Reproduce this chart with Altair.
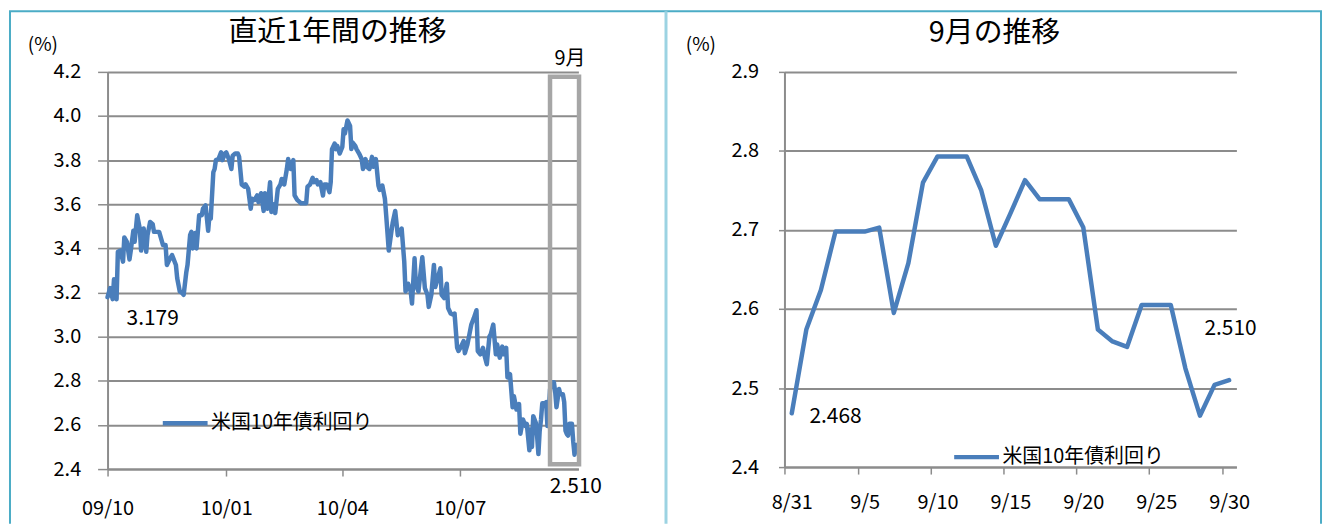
import altair as alt
import pandas as pd

FONT = "Noto Sans CJK JP"
SERIES = "米国10年債利回り"

# ---- 直近1年間 (days since 2009-10-01) ----
year_days = [0, 2, 4, 5, 7, 8, 10, 12, 13, 15, 17, 18, 20, 21, 23, 25, 26, 28, 30, 31,
             33, 35, 36, 40, 43, 45, 46, 48, 50, 51, 53, 54, 56, 58, 59, 61, 62, 64, 65, 66,
             68, 69, 71, 73, 74, 76, 78, 79, 80, 82, 83, 84, 86, 88, 89, 91, 92, 94, 96, 97,
             99, 101, 102, 104, 106, 107, 109, 111, 112, 114, 116, 117, 119, 121, 122, 124, 126, 127, 129, 130,
             132, 134, 135, 137, 139, 140, 142, 144, 145, 147, 150, 154, 155, 157, 159, 160, 162, 163, 165, 167,
             168, 170, 172, 173, 174, 176, 177, 178, 180, 182, 183, 184, 186, 188, 189, 190, 192, 193, 195, 197,
             198, 200, 201, 203, 205, 206, 208, 210, 211, 213, 215, 216, 218, 220, 221, 223, 225, 226, 228, 230,
             231, 233, 235, 236, 238, 239, 241, 243, 244, 246, 248, 249, 251, 253, 254, 256, 258, 259, 261, 263,
             264, 266, 268, 269, 271, 272, 274, 276, 277, 279, 281, 282, 284, 286, 287, 289, 291, 292, 294, 296,
             297, 299, 301, 302, 304, 306, 307, 309, 310, 312, 314, 315, 317, 319, 320, 322, 324, 325, 327, 328,
             329, 330, 332, 333, 334, 335, 336, 337, 338, 339, 340, 341, 342, 343, 344, 345, 346, 347, 348, 349,
             350, 351, 352, 353, 354, 355, 356, 357, 358, 359, 360, 361, 362, 363, 364]
year_values = [3.179, 3.22, 3.17, 3.26, 3.17, 3.385, 3.39, 3.34, 3.45, 3.43, 3.35, 3.39, 3.48, 3.43, 3.55, 3.49, 3.39, 3.49, 3.385, 3.46,
               3.52, 3.51, 3.475, 3.475, 3.415, 3.415, 3.325, 3.35, 3.37, 3.355, 3.325, 3.265, 3.205, 3.197, 3.19, 3.29, 3.325, 3.46, 3.475, 3.40,
               3.47, 3.40, 3.55, 3.55, 3.58, 3.595, 3.48, 3.55, 3.535, 3.745, 3.76, 3.80, 3.805, 3.835, 3.80, 3.83, 3.835, 3.805, 3.76, 3.82,
               3.83, 3.83, 3.815, 3.69, 3.68, 3.69, 3.67, 3.58, 3.625, 3.62, 3.64, 3.61, 3.65, 3.57, 3.65, 3.58, 3.70, 3.565, 3.60, 3.56,
               3.67, 3.69, 3.715, 3.69, 3.76, 3.805, 3.76, 3.80, 3.64, 3.62, 3.605, 3.605, 3.68, 3.69, 3.72, 3.70, 3.71, 3.69, 3.70, 3.64,
               3.69, 3.69, 3.655, 3.70, 3.85, 3.875, 3.85, 3.865, 3.83, 3.86, 3.94, 3.92, 3.98, 3.955, 3.85, 3.88, 3.865, 3.85, 3.83, 3.805,
               3.76, 3.805, 3.77, 3.76, 3.815, 3.77, 3.805, 3.685, 3.665, 3.685, 3.625, 3.55, 3.39, 3.475, 3.515, 3.57, 3.46, 3.475, 3.49, 3.34,
               3.205, 3.24, 3.205, 3.15, 3.355, 3.235, 3.205, 3.31, 3.36, 3.22, 3.19, 3.135, 3.19, 3.325, 3.225, 3.265, 3.31, 3.19, 3.175, 3.24,
               3.13, 3.105, 3.10, 3.105, 2.95, 2.935, 2.955, 2.98, 2.925, 2.965, 3.025, 3.055, 3.085, 3.12, 2.935, 2.92, 2.95, 2.92, 2.875, 3.00,
               3.01, 3.055, 2.92, 2.965, 2.905, 2.955, 2.92, 2.95, 2.815, 2.83, 2.68, 2.73, 2.67, 2.695, 2.56, 2.625, 2.595, 2.605, 2.485, 2.58,
               2.50, 2.64, 2.61, 2.55, 2.468, 2.574, 2.624, 2.698, 2.698, 2.698, 2.703, 2.595, 2.658, 2.760, 2.793, 2.793, 2.793, 2.750, 2.680, 2.721,
               2.763, 2.739, 2.739, 2.739, 2.703, 2.574, 2.559, 2.552, 2.605, 2.605, 2.605, 2.525, 2.465, 2.504, 2.510]
year_tick_days = [0, 92, 182, 273]
year_tick_labels = ["09/10", "10/01", "10/04", "10/07"]
year_y_ticks = [2.4, 2.6, 2.8, 3.0, 3.2, 3.4, 3.6, 3.8, 4.0, 4.2]

# ---- 9月 (days since 8/31) ----
sep_days = [0, 1, 2, 3, 4, 5, 6, 7, 8, 9, 10, 11, 12, 13, 14, 15, 16, 17, 18, 19,
            20, 21, 22, 23, 24, 25, 26, 27, 28, 29, 30]
sep_values = [2.468, 2.574, 2.624, 2.698, 2.698, 2.698, 2.703, 2.595, 2.658, 2.760,
              2.793, 2.793, 2.793, 2.750, 2.680, 2.721, 2.763, 2.739, 2.739, 2.739,
              2.703, 2.574, 2.559, 2.552, 2.605, 2.605, 2.605, 2.525, 2.465, 2.504, 2.510]
sep_tick_days = [0, 5, 10, 15, 20, 25, 30]
sep_tick_labels = ["8/31", "9/5", "9/10", "9/15", "9/20", "9/25", "9/30"]
sep_y_ticks = [2.4, 2.5, 2.6, 2.7, 2.8, 2.9]

LINE = "#4A7EBB"
GRID = "#8C8C8C"
TEAL = "#4BACC6"
DIVIDER = "#9CD3E2"
BOX = "#A6A6A6"

year_df = pd.DataFrame({"day": year_days, "value": year_values, "series": SERIES})
sep_df = pd.DataFrame({"day": sep_days, "value": sep_values, "series": SERIES})
one = pd.DataFrame({"k": [0]})


def label_expr(days, labels):
    expr = "''"
    for d, l in reversed(list(zip(days, labels))):
        expr = f"datum.value == {d} ? '{l}' : ({expr})"
    return expr


color_scale = alt.Scale(domain=[SERIES], range=[LINE])


def legend(x, y):
    return alt.Legend(orient="none", legendX=x, legendY=y, title=None,
                      symbolType="stroke", symbolSize=2025, symbolStrokeWidth=4.5,
                      symbolStrokeColor=LINE, labelFontSize=20, labelFont=FONT,
                      labelColor="black", labelOffset=1, labelLimit=400)


def txt(text, size, **kw):
    return alt.Chart(one).mark_text(text=text, fontSize=size, font=FONT, color="black",
                                    align="center", baseline="middle", **kw)


# ---------------- left chart ----------------
lx = alt.X("day:Q", scale=alt.Scale(domain=[0, 365], nice=False, zero=False),
           axis=alt.Axis(values=year_tick_days, labelExpr=label_expr(year_tick_days, year_tick_labels),
                         grid=False, tickSize=7, labelPadding=23, title=None, labelFlush=False))
ly = alt.Y("value:Q", scale=alt.Scale(domain=[2.4, 4.2], nice=False, zero=False),
           axis=alt.Axis(values=year_y_ticks, format=".1f", tickSize=10, labelPadding=17,
                         title=None, grid=True))

left_line = alt.Chart(year_df).mark_line(strokeWidth=4.5, strokeJoin="round", strokeCap="round").encode(
    x=lx, y=ly, color=alt.Color("series:N", scale=color_scale, legend=legend(53, 328)))

left_box = alt.Chart(one).mark_rect(filled=False, stroke=BOX, strokeWidth=4.5).encode(
    x=alt.datum(343), x2=alt.datum(365.5), y=alt.datum(2.422), y2=alt.datum(4.178))

left_texts = [
    txt("直近1年間の推移", 29).encode(x=alt.value(231), y=alt.value(-40)),
    txt("(%)", 19).encode(x=alt.value(-65), y=alt.value(-27)),
    txt("9月", 20, dy=-13).encode(x=alt.datum(358.5), y=alt.datum(4.2)),
    txt("3.179", 21).encode(x=alt.datum(35), y=alt.datum(3.08)),
    txt("2.510", 21, dy=18).encode(x=alt.datum(363), y=alt.datum(2.4)),
]

deco = [
    alt.Chart(one).mark_rule(color=TEAL, strokeWidth=2).encode(
        x=alt.value(-98), y=alt.value(-61), y2=alt.value(454)),
    alt.Chart(one).mark_rule(color=TEAL, strokeWidth=2).encode(
        x=alt.value(-99), x2=alt.value(1220), y=alt.value(-61)),
    alt.Chart(one).mark_rule(color=TEAL, strokeWidth=2).encode(
        x=alt.value(1219), y=alt.value(-61), y2=alt.value(454)),
    alt.Chart(one).mark_rule(color=DIVIDER, strokeWidth=3).encode(
        x=alt.value(561), y=alt.value(-61), y2=alt.value(454)),
]

left = alt.layer(left_line, left_box, *left_texts, *deco).properties(width=473, height=399)

# ---------------- right chart ----------------
rx = alt.X("day:Q", scale=alt.Scale(domain=[-0.5, 30.5], nice=False, zero=False),
           axis=alt.Axis(values=sep_tick_days, labelExpr=label_expr(sep_tick_days, sep_tick_labels),
                         grid=False, tickSize=7, labelPadding=19, title=None, labelFlush=False,
                         tickOffset=-7, labelOffset=7))
ry = alt.Y("value:Q", scale=alt.Scale(domain=[2.4, 2.9], nice=False, zero=False),
           axis=alt.Axis(values=sep_y_ticks, format=".1f", tickSize=6, labelPadding=20,
                         title=None, grid=True))

right_line = alt.Chart(sep_df).mark_line(strokeWidth=4.5, strokeJoin="round", strokeCap="round").encode(
    x=rx, y=ry, color=alt.Color("series:N", scale=color_scale, legend=legend(168, 362)))

right_texts = [
    txt("9月の推移", 29).encode(x=alt.value(211), y=alt.value(-39)),
    txt("(%)", 19).encode(x=alt.value(-84), y=alt.value(-27)),
    txt("2.468", 21).encode(x=alt.datum(3.0), y=alt.datum(2.463)),
    txt("2.510", 21).encode(x=alt.datum(30.1), y=alt.datum(2.575)),
]

right = alt.layer(right_line, *right_texts).properties(width=454, height=397)

chart = alt.hconcat(left, right, spacing=207, bounds="flush").resolve_scale(
    color="independent").resolve_legend(color="independent").properties(padding=0).configure(
    font=FONT).configure_view(strokeWidth=0).configure_axis(
    labelFont=FONT, labelFontSize=20, labelColor="black",
    domainColor=GRID, domainWidth=2, gridColor=GRID, gridWidth=2,
    tickColor=GRID, tickWidth=1.5)

chart.save("out.html", embed_options={"renderer": "svg", "actions": False})
